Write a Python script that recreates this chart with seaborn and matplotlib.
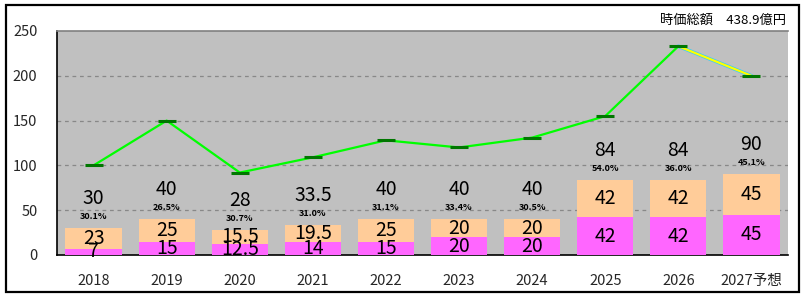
import matplotlib
matplotlib.use("Agg")
import matplotlib.pyplot as plt
import matplotlib.patheffects as pe
from matplotlib.patches import Rectangle
import seaborn as sns
import pandas as pd
import numpy as np

years = ["2018", "2019", "2020", "2021", "2022", "2023", "2024", "2025", "2026", "2027予想"]
lower = [7, 15, 12.5, 14, 15, 20, 20, 42, 42, 45]
upper = [23, 25, 15.5, 19.5, 25, 20, 20, 42, 42, 45]
totals = [30, 40, 28, 33.5, 40, 40, 40, 84, 84, 90]
pcts = ["30.1%", "26.5%", "30.7%", "31.0%", "31.1%", "33.4%", "30.5%", "54.0%", "36.0%", "45.1%"]
line_vals = [100, 150, 92, 109, 128, 120, 131, 155, 233, 200]
title_text = "時価総額　438.9億円"
yticks = [0, 50, 100, 150, 200, 250]

sns.set_theme(style="white")
plt.rcParams['font.family'] = ['Noto Sans CJK JP', 'DejaVu Sans']

df = pd.DataFrame({"year": years, "lower": lower, "upper": upper, "total": totals})

fig = plt.figure(figsize=(8.09, 2.96), dpi=100)
fig.patch.set_facecolor("white")
ax = fig.add_axes([57/809, 41/296, 731/809, 224/296])
ax.set_facecolor("#C0C0C0")

sns.barplot(data=df, x="year", y="total", color="#FFCC99", width=0.77, saturation=1,
            linewidth=0, edgecolor="none", ax=ax, zorder=2)
sns.barplot(data=df, x="year", y="lower", color="#FF66FF", width=0.77, saturation=1,
            linewidth=0, edgecolor="none", ax=ax, zorder=3)

xs = np.arange(len(years))
ldf = pd.DataFrame({"x": xs[:-1], "v": line_vals[:-1]})
sns.lineplot(data=ldf, x="x", y="v", color="#00FF00", linewidth=1.6, ax=ax, zorder=5)
ax.plot(xs[-2:], line_vals[-2:], color="#FFFF00", linewidth=1.6, zorder=5,
        path_effects=[pe.Stroke(linewidth=2.6, foreground="#33CCFF"), pe.Normal()])
ax.plot(xs, line_vals, linestyle="none", marker="_", markersize=13, mew=2.2, color="#007700", zorder=6)

for i in range(len(years)):
    ax.text(i, lower[i] / 2, f"{lower[i]:g}", ha="center", va="center", fontsize=14, color="black", zorder=7)
    ax.text(i, lower[i] + upper[i] / 2, f"{upper[i]:g}", ha="center", va="center", fontsize=14, color="black", zorder=7)
    ax.text(i, totals[i] + 33, f"{totals[i]:g}", ha="center", va="center", fontsize=14, color="black", zorder=7)
    ax.text(i, totals[i] + 13, pcts[i], ha="center", va="center", fontsize=6.5, color="black", fontweight="bold", zorder=7)

ax.set_ylim(0, 250)
ax.set_xlim(-0.5, 9.5)
ax.set_yticks(yticks)
ax.set_yticklabels([str(t) for t in yticks], fontsize=10.5)
ax.set_xticks(xs)
ax.set_xticklabels(years, fontsize=10.5)
ax.set_xlabel("")
ax.set_ylabel("")
ax.tick_params(axis="x", length=0, pad=14)
ax.tick_params(axis="y", length=0, pad=14)
ax.set_xticks(np.arange(-0.5, 10, 1), minor=True)
ax.tick_params(axis="x", which="minor", length=4, direction="in", color="black", width=1)
for t in [50, 100, 150, 200]:
    ax.axhline(t, color="#888888", linestyle=(0, (3, 3)), linewidth=0.9, zorder=1)

for s in ["top", "right"]:
    ax.spines[s].set_color("#808080")
    ax.spines[s].set_linewidth(1.2)
for s in ["left", "bottom"]:
    ax.spines[s].set_color("black")
    ax.spines[s].set_linewidth(1.2)
ax.spines["right"].set_visible(False)

fig.text(786/809, 1 - 20/296, title_text, ha="right", va="center", fontsize=9.5, color="black")

fig.patches.append(Rectangle((6/809, 1 - 292/296), 793/809, 287/296, transform=fig.transFigure,
                             fill=False, edgecolor="black", linewidth=1.6))

fig.savefig("out.png", dpi=100)
